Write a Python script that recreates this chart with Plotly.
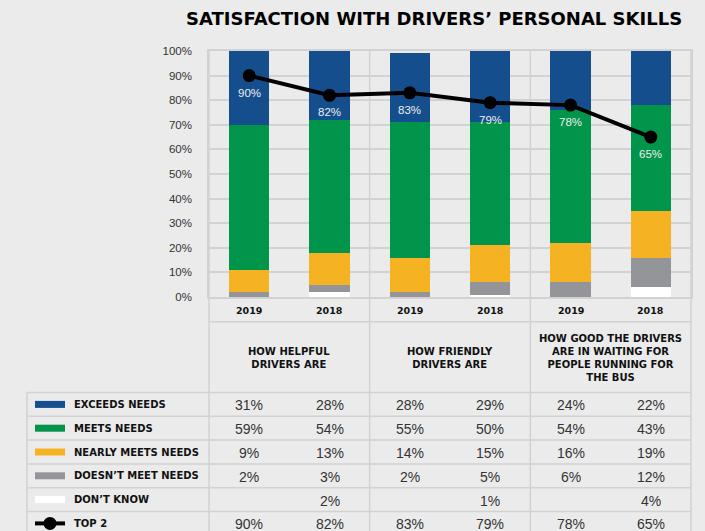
import plotly.graph_objects as go

# ---------------- data ----------------
years = ["2019", "2018", "2019", "2018", "2019", "2018"]
groups = [
    "HOW HELPFUL<br>DRIVERS ARE",
    "HOW FRIENDLY<br>DRIVERS ARE",
    "HOW GOOD THE DRIVERS<br>ARE IN WAITING FOR<br>PEOPLE RUNNING FOR<br>THE BUS",
]
exceeds = [31, 28, 28, 29, 24, 22]
meets = [59, 54, 55, 50, 54, 43]
nearly = [9, 13, 14, 15, 16, 19]
doesnt = [2, 3, 2, 5, 6, 12]
dont_know = [None, 2, None, 1, None, 4]
top2 = [90, 82, 83, 79, 78, 65]
y_ticks = list(range(0, 101, 10))

series_names = ["EXCEEDS NEEDS", "MEETS NEEDS", "NEARLY MEETS NEEDS",
                "DOESN’T MEET NEEDS", "DON’T KNOW"]
series_values = [exceeds, meets, nearly, doesnt, dont_know]
series_colors = ["#144e8c", "#00954a", "#f5b323", "#939598", "#ffffff"]
line_name = "TOP 2"

# ---------------- geometry ----------------
W, H = 705, 531
L, R, T, B = 209, 691, 51, 297
BG = "#ebebeb"
GRID = "#d2d2d2"
HEAVY = "DejaVu Sans"


def px_x(p):
    return (p - L) / (R - L)


def px_y(p):
    return (B - p) / (B - T)


xs = list(range(len(years)))

fig = go.Figure()

# stacked bars: bottom to top
for name, vals, col in reversed(list(zip(series_names, series_values, series_colors))):
    fig.add_trace(go.Bar(
        x=xs, y=[v if v is not None else 0 for v in vals], name=name,
        marker=dict(color=col, line=dict(width=0)), width=0.5,
        showlegend=False, hoverinfo="skip",
    ))

fig.add_trace(go.Scatter(
    x=xs, y=top2, mode="lines+markers", name=line_name,
    line=dict(color="#000000", width=4),
    marker=dict(color="#000000", size=13),
    showlegend=False, hoverinfo="skip", cliponaxis=False,
))

shapes = []
annotations = []

# labels under the line markers
for x, v in zip(xs, top2):
    annotations.append(dict(x=x, xref="x", y=v, yref="y", yshift=-17,
                            text=f"{v}%", showarrow=False, xanchor="center", yanchor="middle",
                            font=dict(family="Liberation Sans, Arial", size=11.5,
                                      color="#eeeeee")))


def hline(y, x0, x1):
    shapes.append(dict(type="line", xref="paper", yref="paper",
                       x0=px_x(x0), x1=px_x(x1), y0=px_y(y), y1=px_y(y),
                       line=dict(color=GRID, width=1.5), layer="above"))


def vline(x, y0, y1):
    shapes.append(dict(type="line", xref="paper", yref="paper",
                       x0=px_x(x), x1=px_x(x), y0=px_y(y0), y1=px_y(y1),
                       line=dict(color=GRID, width=1.5), layer="below"))


# vertical dividers (outer + between groups)
vline(L, T, H)
vline(R, T, H)
for g in range(1, len(groups)):
    gx = 2 * g - 0.5
    shapes.append(dict(type="line", xref="x", yref="paper",
                       x0=gx, x1=gx, y0=px_y(H), y1=1,
                       line=dict(color=GRID, width=1.5), layer="below"))

# header lines
hline(321.7, L, R)
row0 = 392.5
rh = 23.8
TL = 27
vline(TL, row0, H)
n_rows = len(series_names) + 1
for i in range(n_rows + 1):
    hline(row0 + rh * i, TL, R)

# year labels
for x, yr in zip(xs, years):
    annotations.append(dict(x=x, xref="x", y=px_y(310.5), yref="paper",
                            text=f"<b>{yr}</b>", showarrow=False, xanchor="center",
                            yanchor="middle",
                            font=dict(family=HEAVY, size=9.5, color="#111111")))

# group labels
for g, lab in enumerate(groups):
    annotations.append(dict(x=2 * g + 0.5, xref="x", y=px_y(357.5), yref="paper",
                            text=f"<b>{lab}</b>", showarrow=False, xanchor="center",
                            yanchor="middle", align="center",
                            font=dict(family=HEAVY, size=10, color="#111111")))

# table rows
row_names = series_names + [line_name]
row_values = series_values + [top2]
for i, (nm, vals) in enumerate(zip(row_names, row_values)):
    cy = row0 + rh * (i + 0.5)
    annotations.append(dict(x=px_x(71.5), xref="paper", y=px_y(cy), yref="paper",
                            text=f"<b>{nm}</b>", showarrow=False, xanchor="left",
                            yanchor="middle",
                            font=dict(family=HEAVY, size=10, color="#111111")))
    if i < len(series_names):
        shapes.append(dict(type="rect", xref="paper", yref="paper",
                           x0=px_x(35), x1=px_x(65), y0=px_y(cy - 3.5), y1=px_y(cy + 3.5),
                           fillcolor=series_colors[i], line=dict(width=0), layer="above"))
    else:
        shapes.append(dict(type="line", xref="paper", yref="paper",
                           x0=px_x(35), x1=px_x(65), y0=px_y(cy), y1=px_y(cy),
                           line=dict(color="#000000", width=4), layer="above"))
        shapes.append(dict(type="circle", xref="paper", yref="paper",
                           x0=px_x(43.5), x1=px_x(56.5), y0=px_y(cy + 6.5), y1=px_y(cy - 6.5),
                           fillcolor="#000000", line=dict(width=0), layer="above"))
    for x, v in zip(xs, vals):
        if v is None:
            continue
        annotations.append(dict(x=x, xref="x", y=px_y(cy + 1), yref="paper",
                                text=f"{v}%", showarrow=False, xanchor="center",
                                yanchor="middle",
                                font=dict(family="Liberation Sans, Arial", size=14,
                                          color="#333333")))

# title
annotations.append(dict(x=px_x(433.5), xref="paper", y=px_y(18), yref="paper",
                        text="<b>SATISFACTION WITH DRIVERS’ PERSONAL SKILLS</b>",
                        showarrow=False, xanchor="center", yanchor="middle",
                        font=dict(family=HEAVY, size=18, color="#000000")))

fig.update_layout(
    width=W, height=H,
    margin=dict(l=L, r=W - R, t=T, b=H - B, pad=0),
    paper_bgcolor=BG, plot_bgcolor="rgba(0,0,0,0)",
    barmode="stack", bargap=0,
    shapes=shapes, annotations=annotations,
    showlegend=False,
    xaxis=dict(range=[-0.5, len(xs) - 0.5], showticklabels=False, showgrid=False,
               zeroline=False, showline=True, mirror=True, linecolor=GRID, linewidth=1.5,
               fixedrange=True),
    yaxis=dict(range=[0, 100], tickvals=y_ticks, ticktext=[f"{v}%" for v in y_ticks],
               showgrid=True, gridcolor=GRID, gridwidth=1.5, zeroline=False,
               showline=True, mirror=True, linecolor=GRID, linewidth=1.5,
               ticks="", ticklabelstandoff=13,
               tickfont=dict(family="Liberation Sans, Arial", size=11.5, color="#333333"),
               fixedrange=True),
)

fig.write_html(
    "out.html",
    config={"displayModeBar": False},
    post_script="document.body.style.margin='0';document.body.style.background='#ebebeb';",
)
